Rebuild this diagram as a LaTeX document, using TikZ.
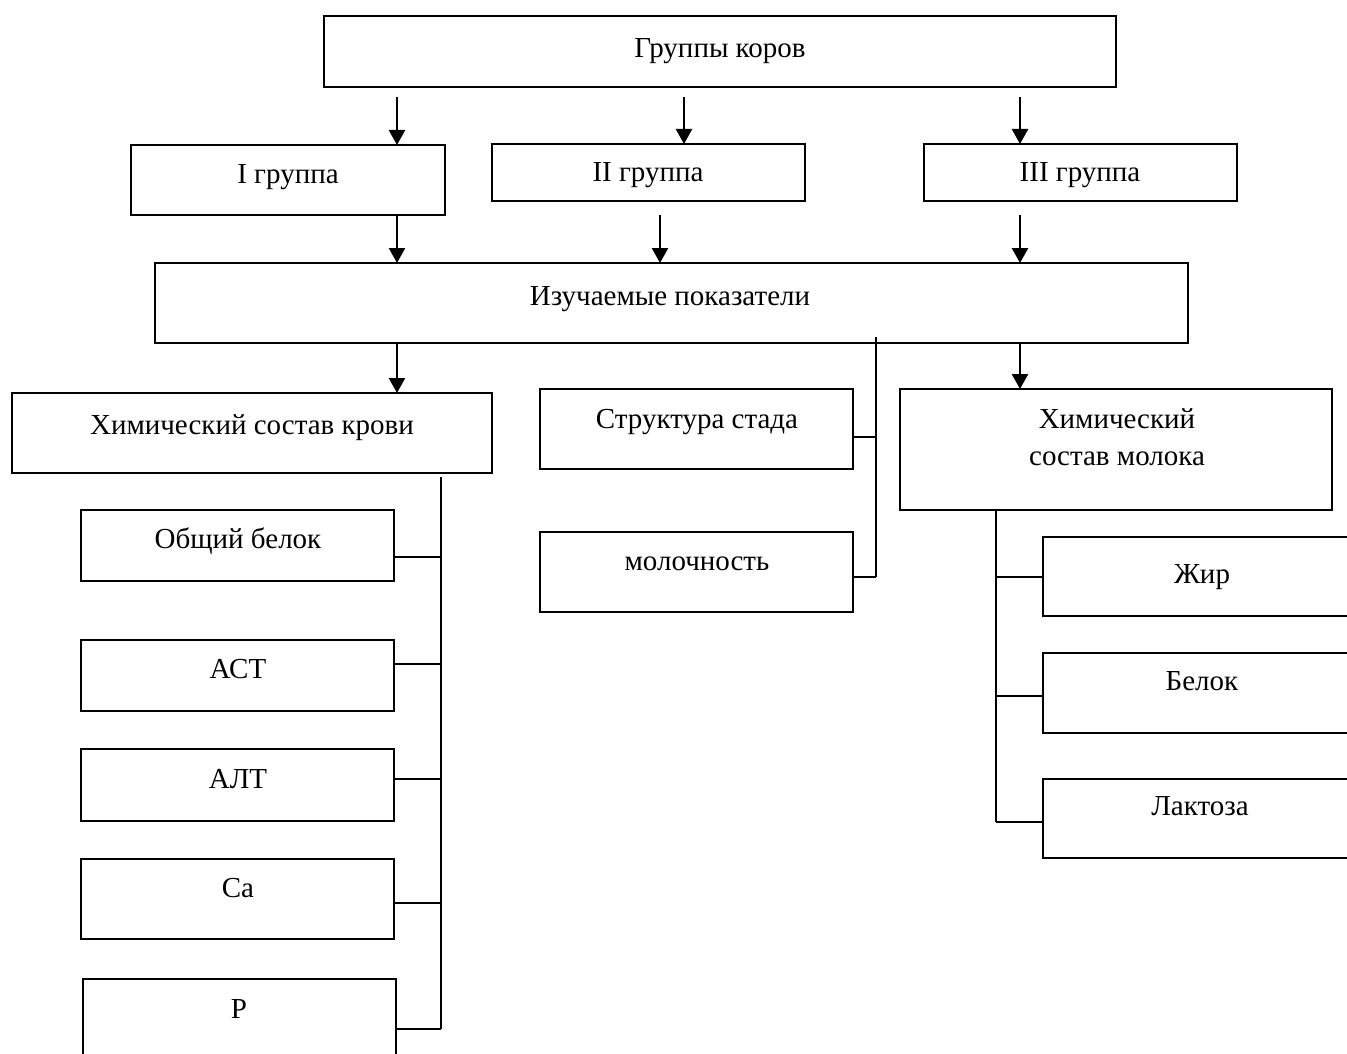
\documentclass[tikz,border=0pt]{standalone}
\usepackage{fontspec}
\setmainfont{Liberation Serif}
\usetikzlibrary{arrows.meta}
\newcommand\mybox[5]{\node[bx, anchor=north west, minimum width=#4pt-#2pt, minimum height=#5pt-#3pt] (#1) at (#2,#3) {};}
\begin{document}
\begin{tikzpicture}[x=1pt,y=-1pt,
  bx/.style={draw, line width=2.4pt, inner sep=0pt, outer sep=0pt},
  lbl/.style={anchor=base, font=\fontsize{29}{37}\selectfont, inner sep=0pt, align=center},
  ln/.style={line width=2.4pt},
  arr/.style={line width=2.4pt, -{Triangle[width=16pt,length=15pt]}}]
\useasboundingbox (0,0) rectangle (1347,1054);
\clip (0,0) rectangle (1347,1054);
% boxes
\mybox{top}{324}{16}{1116}{87}
\mybox{g1}{131}{145}{445}{215}
\mybox{g2}{492}{144}{805}{201}
\mybox{g3}{924}{144}{1237}{201}
\mybox{iz}{155}{263}{1188}{343}
\mybox{bl}{12}{393}{492}{473}
\mybox{st}{540}{389}{853}{469}
\mybox{mo}{540}{532}{853}{612}
\mybox{ml}{900}{389}{1332}{510}
\mybox{ob}{81}{510}{394}{581}
\mybox{ast}{81}{640}{394}{711}
\mybox{alt}{81}{749}{394}{821}
\mybox{ca}{81}{859}{394}{939}
\mybox{pp}{83}{979}{396}{1070}
\mybox{zh}{1043}{537}{1360}{616}
\mybox{be}{1043}{653}{1360}{733}
\mybox{la}{1043}{779}{1360}{858}
% texts
\node[lbl] (ttop) at (720,58) {Группы коров};
\node[lbl] (tg1) at (288,183) {I группа};
\node[lbl] (tg2) at (648,182) {II группа};
\node[lbl] (tg3) at (1080,182) {III группа};
\node[lbl] (tiz) at (670,305) {Изучаемые показатели};
\node[lbl] (tbl) at (252,434) {Химический состав крови};
\node[lbl] (tst) at (697,428) {Структура стада};
\node[lbl] (tmo) at (697,570) {молочность};
\node[lbl] (tml) at (1117,465) {Химический\\состав молока};
\node[lbl] (tob) at (238,548) {Общий белок};
\node[lbl] (tast) at (238,678) {АСТ};
\node[lbl] (talt) at (238,788) {АЛТ};
\node[lbl] (tca) at (238,897) {Ca};
\node[lbl] (tpp) at (239,1018) {P};
\node[lbl] (tzh) at (1202,583) {Жир};
\node[lbl] (tbe) at (1202,690) {Белок};
\node[lbl] (tla) at (1200,815) {Лактоза};
% arrows top -> groups
\coordinate (a1) at (397,97);
\coordinate (a2) at (684,97);
\coordinate (a3) at (1020,97);
\draw[arr] (a1) -- (a1 |- g1.north);
\draw[arr] (a2) -- (a2 |- g2.north);
\draw[arr] (a3) -- (a3 |- g3.north);
% arrows groups -> iz
\coordinate (b1) at (397,215);
\coordinate (b2) at (660,215);
\coordinate (b3) at (1020,215);
\draw[arr] (b1) -- (b1 |- iz.north);
\draw[arr] (b2) -- (b2 |- iz.north);
\draw[arr] (b3) -- (b3 |- iz.north);
% arrows iz -> row 3
\coordinate (c1) at (397,343);
\coordinate (c3) at (1020,343);
\draw[arr] (c1) -- (c1 |- bl.north);
\draw[arr] (c3) -- (c3 |- ml.north);
% centre bracket
\coordinate (m0) at (876,337);
\coordinate (m1) at (876,437);
\coordinate (m2) at (876,577);
\draw[ln] (m0) -- (m2);
\draw[ln] (m1) -- (m1 -| st.east);
\draw[ln] (m2) -- (m2 -| mo.east);
% left bracket
\coordinate (l0) at (441,477);
\coordinate (l1) at (441,557);
\coordinate (l2) at (441,664);
\coordinate (l3) at (441,779);
\coordinate (l4) at (441,903);
\coordinate (l5) at (441,1029);
\draw[ln] (l0) -- (l5);
\draw[ln] (l1) -- (l1 -| ob.east);
\draw[ln] (l2) -- (l2 -| ast.east);
\draw[ln] (l3) -- (l3 -| alt.east);
\draw[ln] (l4) -- (l4 -| ca.east);
\draw[ln] (l5) -- (l5 -| pp.east);
% right bracket
\coordinate (r0) at (996,510);
\coordinate (r1) at (996,577);
\coordinate (r2) at (996,696);
\coordinate (r3) at (996,822);
\draw[ln] (r0) -- (r3);
\draw[ln] (r1) -- (r1 -| zh.west);
\draw[ln] (r2) -- (r2 -| be.west);
\draw[ln] (r3) -- (r3 -| la.west);
\end{tikzpicture}
\end{document}
